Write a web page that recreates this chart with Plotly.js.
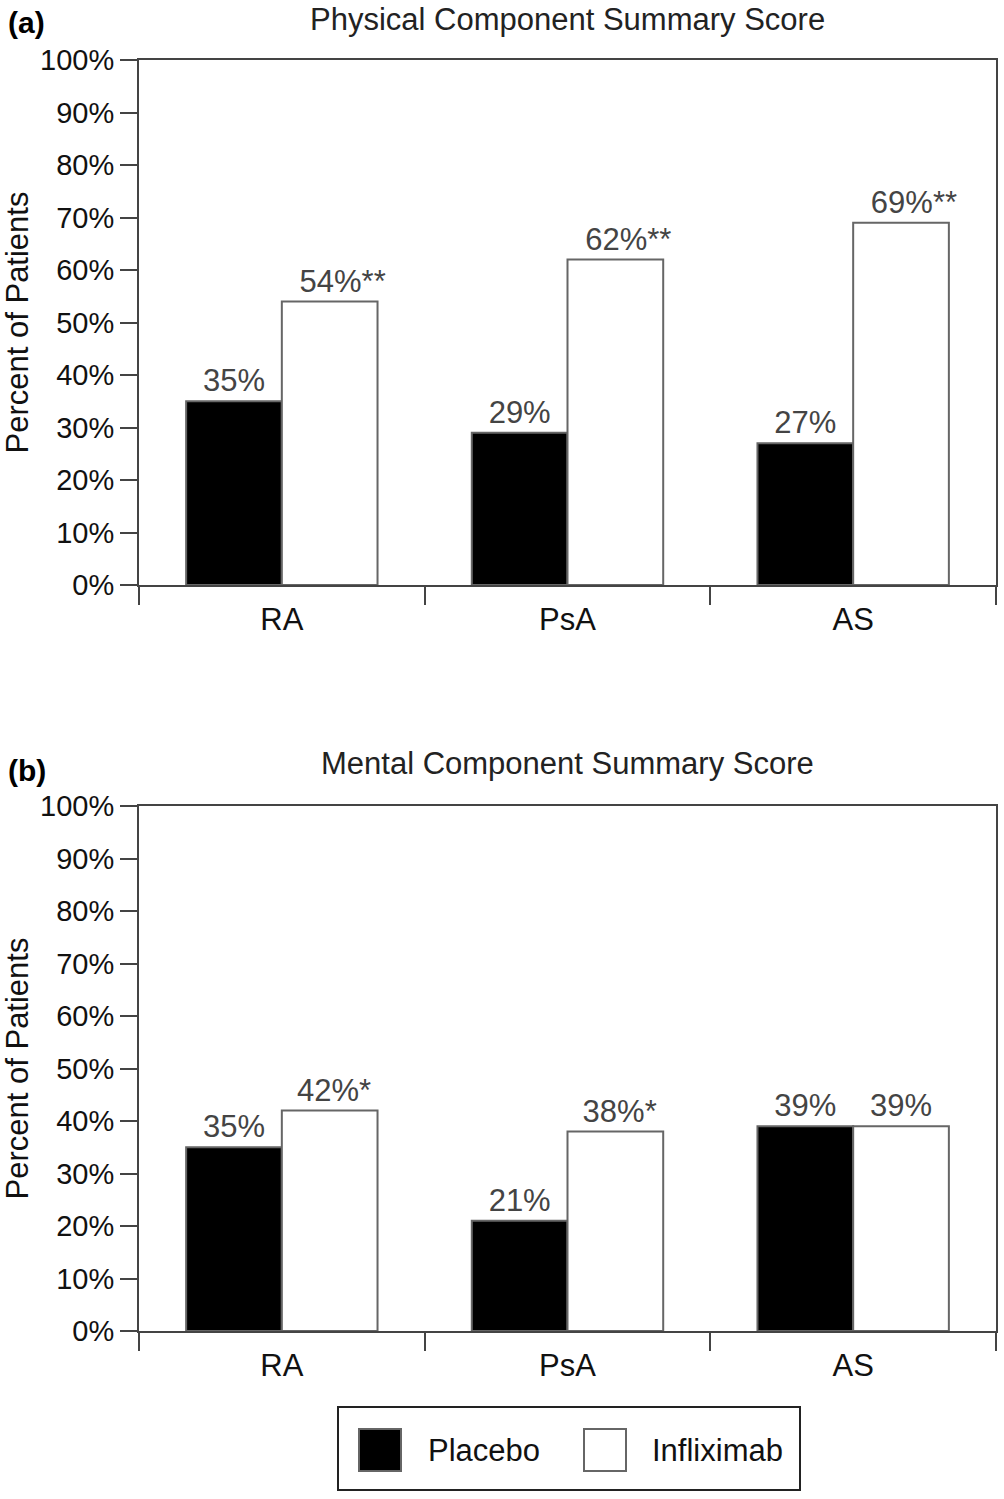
<!DOCTYPE html>
<html>
<head>
<meta charset="utf-8">
<script src="https://cdn.plot.ly/plotly-3.0.1.min.js"></script>
<style>html,body{margin:0;padding:0;background:#fff;}#chart{width:1004px;height:1499px;}</style>
</head>
<body>
<div id="chart"></div>
<script>
// ---- data ----
const categories = ["RA", "PsA", "AS"];
const seriesNames = ["Placebo", "Infliximab"];
const pcsPlacebo = [35, 29, 27];
const pcsInfliximab = [54, 62, 69];
const pcsInfliximabSig = ["**", "**", "**"];
const mcsPlacebo = [35, 21, 39];
const mcsInfliximab = [42, 38, 39];
const mcsInfliximabSig = ["*", "*", ""];
const panelTitles = ["Physical Component Summary Score", "Mental Component Summary Score"];
const panelLetters = ["(a)", "(b)"];
const yTitle = "Percent of Patients";
const yTicks = [0, 10, 20, 30, 40, 50, 60, 70, 80, 90, 100];
const yTickText = yTicks.map(v => v + "%");

// ---- layout geometry ----
const W = 1004, H = 1499;
const M = {l: 139, r: 8, t: 60, b: 168};
const PW = W - M.l - M.r, PH = H - M.t - M.b;
const px2x = p => (p - M.l) / PW;
const px2y = p => (H - M.b - p) / PH;

const FONT = "Liberation Sans, Arial, Helvetica, sans-serif";
const LINE = "#444";
const OUTLINE = "#666";
const LABEL = "#444";
const FS = 31;

function lbl(vals, sig) {
  return vals.map((v, i) => {
    const s = sig ? sig[i] : "";
    if (!s) return v + "%";
    // pad left so the number stays roughly centred over the bar
    return "\u00a0".repeat(Math.round(s.length * 1.4)) + v + "%" + s;
  });
}

function barTrace(vals, sig, name, fill, xa, ya) {
  return {
    type: "bar", x: categories, y: vals, name: name,
    xaxis: xa, yaxis: ya,
    marker: {color: fill, line: {color: OUTLINE, width: 2}},
    text: lbl(vals, sig), textposition: "outside", constraintext: "none",
    cliponaxis: false,
    textfont: {family: FONT, size: FS, color: LABEL},
    showlegend: false, hoverinfo: "skip"
  };
}

const data = [
  barTrace(pcsPlacebo, null, seriesNames[0], "#000", "x", "y"),
  barTrace(pcsInfliximab, pcsInfliximabSig, seriesNames[1], "#fff", "x", "y"),
  barTrace(mcsPlacebo, null, seriesNames[0], "#000", "x2", "y2"),
  barTrace(mcsInfliximab, mcsInfliximabSig, seriesNames[1], "#fff", "x2", "y2")
];

function xAxis(anchor) {
  return {
    anchor: anchor, type: "category", domain: [0, 1],
    tickson: "boundaries", ticks: "outside", ticklen: 18, tickwidth: 2, tickcolor: LINE,
    ticklabelstandoff: 6,
    showline: true, mirror: true, linecolor: LINE, linewidth: 2,
    showgrid: false, zeroline: false, fixedrange: true,
    tickfont: {family: FONT, size: FS, color: "#111"}
  };
}
function yAxis(anchor, domain) {
  return {
    anchor: anchor, domain: domain, range: [0, 100],
    tickmode: "array", tickvals: yTicks, ticktext: yTickText,
    ticks: "outside", ticklen: 17, tickwidth: 2, tickcolor: LINE,
    showline: true, mirror: true, linecolor: LINE, linewidth: 2,
    showgrid: false, zeroline: false, fixedrange: true,
    tickfont: {family: FONT, size: 29, color: "#111"},
    title: {text: yTitle, font: {family: FONT, size: FS, color: "#111"}, standoff: 4}
  };
}

const topDom = [px2y(585), px2y(60)];
const botDom = [px2y(1331), px2y(806)];

const annotations = [
  {text: panelTitles[0], x: 0.5, y: px2y(20), xref: "paper", yref: "paper", showarrow: false,
   xanchor: "center", yanchor: "middle", font: {family: FONT, size: FS, color: "#222"}},
  {text: panelTitles[1], x: 0.5, y: px2y(763), xref: "paper", yref: "paper", showarrow: false,
   xanchor: "center", yanchor: "middle", font: {family: FONT, size: FS, color: "#222"}},
  {text: "<b>" + panelLetters[0] + "</b>", x: px2x(6), y: px2y(22), xref: "paper", yref: "paper", showarrow: false,
   xanchor: "left", yanchor: "middle", font: {family: FONT, size: 30, color: "#000"}},
  {text: "<b>" + panelLetters[1] + "</b>", x: px2x(6), y: px2y(770), xref: "paper", yref: "paper", showarrow: false,
   xanchor: "left", yanchor: "middle", font: {family: FONT, size: 30, color: "#000"}},
  {text: seriesNames[0], x: px2x(426), y: px2y(1450), xref: "paper", yref: "paper", showarrow: false,
   xanchor: "left", yanchor: "middle", font: {family: FONT, size: 31, color: "#111"}},
  {text: seriesNames[1], x: px2x(650), y: px2y(1450), xref: "paper", yref: "paper", showarrow: false,
   xanchor: "left", yanchor: "middle", font: {family: FONT, size: 31, color: "#111"}}
];

const shapes = [
  {type: "rect", xref: "paper", yref: "paper", x0: px2x(338), x1: px2x(800), y0: px2y(1407), y1: px2y(1490),
   line: {color: "#222", width: 2}, fillcolor: "rgba(0,0,0,0)"},
  {type: "rect", xref: "paper", yref: "paper", x0: px2x(359), x1: px2x(401), y0: px2y(1429), y1: px2y(1471),
   line: {color: OUTLINE, width: 2}, fillcolor: "#000"},
  {type: "rect", xref: "paper", yref: "paper", x0: px2x(584), x1: px2x(626), y0: px2y(1429), y1: px2y(1471),
   line: {color: OUTLINE, width: 2}, fillcolor: "#fff"}
];

const layout = {
  width: W, height: H,
  margin: M,
  paper_bgcolor: "#fff", plot_bgcolor: "#fff",
  barmode: "group", bargap: 0.33, bargroupgap: 0,
  font: {family: FONT, color: "#111"},
  showlegend: false,
  xaxis: xAxis("y"), yaxis: yAxis("x", topDom),
  xaxis2: xAxis("y2"), yaxis2: yAxis("x2", botDom),
  annotations: annotations, shapes: shapes
};

Plotly.newPlot("chart", data, layout, {staticPlot: true, displayModeBar: false});
</script>
</body>
</html>
